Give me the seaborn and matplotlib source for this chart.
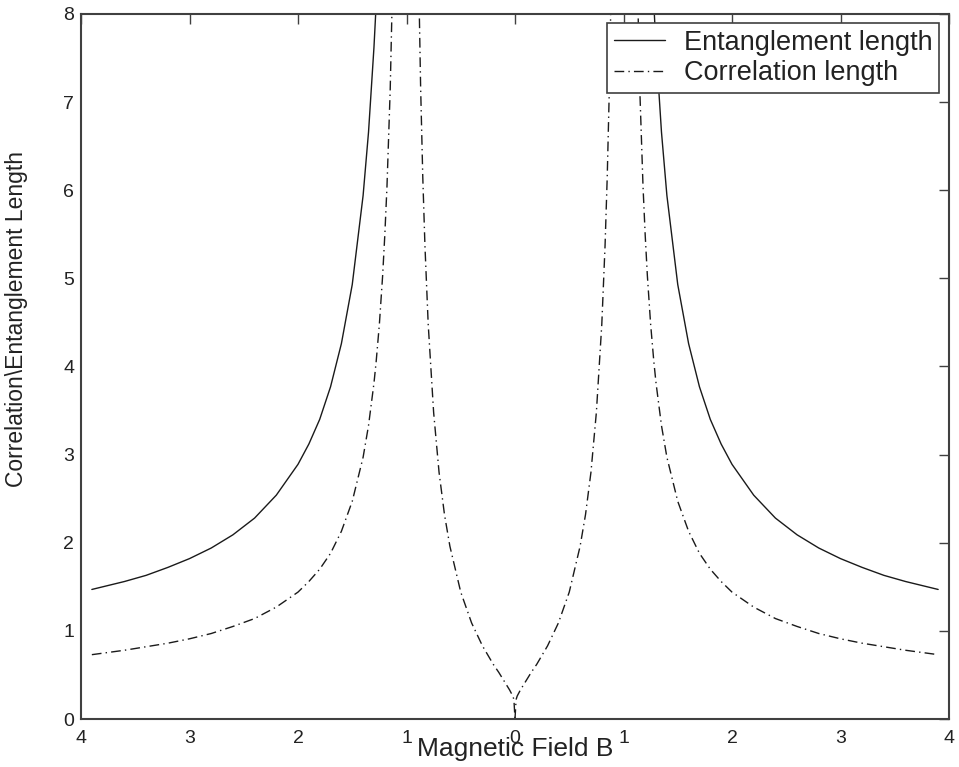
import numpy as np
import pandas as pd
import seaborn as sns
import matplotlib
matplotlib.use("Agg")
import matplotlib.pyplot as plt
from matplotlib.lines import Line2D

sns.set_theme(style="white")
plt.rcParams['font.family'] = ['Liberation Sans', 'DejaVu Sans']

# |B| > 1 branch (mirrored for B < 0)
b_outer = [1.10, 1.12, 1.15, 1.18, 1.20, 1.22, 1.25, 1.28, 1.30, 1.35, 1.40, 1.50,
           1.60, 1.70, 1.80, 1.90, 2.00, 2.20, 2.40, 2.60, 2.80, 3.00, 3.20, 3.40,
           3.60, 3.90]
corr_outer = [10.5, 8.82, 7.15, 6.04, 5.49, 5.03, 4.48, 4.05, 3.81, 3.33, 2.97, 2.47,
              2.13, 1.88, 1.70, 1.56, 1.44, 1.27, 1.14, 1.05, 0.97, 0.91, 0.86, 0.82,
              0.78, 0.73]
ent_outer = [21.0, 17.6, 14.3, 12.1, 10.97, 10.06, 8.96, 8.10, 7.62, 6.66, 5.94, 4.93,
             4.26, 3.77, 3.40, 3.12, 2.89, 2.54, 2.28, 2.09, 1.94, 1.82, 1.72, 1.63,
             1.56, 1.47]

# |B| < 1 branch, correlation length only
b_inner = [0.0, 0.01, 0.02, 0.05, 0.10, 0.15, 0.20, 0.30, 0.40, 0.50, 0.60, 0.65,
           0.70, 0.75, 0.80, 0.83, 0.85, 0.87, 0.89]
corr_inner = [0.0, 0.22, 0.26, 0.33, 0.43, 0.53, 0.62, 0.83, 1.09, 1.44, 1.96, 2.32,
              2.80, 3.48, 4.48, 5.37, 6.15, 7.18, 8.58]

x_ticks = [-4, -3, -2, -1, 0, 1, 2, 3, 4]
x_ticklabels = ["4", "3", "2", "1", "0", "1", "2", "3", "4"]
y_ticks = [0, 1, 2, 3, 4, 5, 6, 7, 8]

rows = []
for sign, tag in [(-1, "L"), (1, "R")]:
    for b, c, e in zip(b_outer, corr_outer, ent_outer):
        rows.append((sign * b, c, "Correlation length", "corr_out" + tag))
        rows.append((sign * b, e, "Entanglement length", "ent_out" + tag))
    for b, c in zip(b_inner, corr_inner):
        rows.append((sign * b, c, "Correlation length", "corr_in" + tag))
df = pd.DataFrame(rows, columns=["B", "L", "series", "branch"])

fig = plt.figure(figsize=(9.59, 7.67), dpi=100)
ax = fig.add_axes([81 / 959, 1 - 719 / 767, 868 / 959, 705 / 767])

dash_dot = (7, 3, 1, 3)
sns.lineplot(ax=ax, data=df, x="B", y="L", style="series", units="branch",
             estimator=None, sort=True, color="#1a1a1a", linewidth=1.0,
             dashes={"Entanglement length": "", "Correlation length": dash_dot},
             legend=False)

ax.set_xlim(-4, 4)
ax.set_ylim(0, 8)
ax.set_xticks(x_ticks)
ax.set_xticklabels(x_ticklabels)
ax.set_yticks(y_ticks)
ax.tick_params(direction="in", length=7, width=1, color="#404040",
               top=True, right=True, labelsize=14, colors="#222222")
ax.tick_params(axis="x", pad=8)
ax.tick_params(axis="y", pad=5)
for sp in ax.spines.values():
    sp.set_color("#404040")
    sp.set_linewidth(1.5)

ax.set_xlabel("Magnetic Field B", fontsize=19, color="#222222", labelpad=-7.5)
ax.set_ylabel("Correlation\\Entanglement Length", fontsize=16.5, color="#222222")
ax.yaxis.set_label_coords(-0.061, 0.567)
ax.grid(False)

handles = [Line2D([], [], color="#1a1a1a", lw=1.0),
           Line2D([], [], color="#1a1a1a", lw=1.0, dashes=dash_dot)]
leg = ax.legend(handles, ["Entanglement length", "Correlation length"],
                loc="upper right", bbox_to_anchor=(0.989, 0.987), fontsize=19.5,
                frameon=True, fancybox=False, framealpha=1, borderpad=0.25,
                labelspacing=0.15, handlelength=1.9, handletextpad=0.7,
                borderaxespad=0)
leg.get_frame().set_edgecolor("#404040")
leg.get_frame().set_linewidth(1.2)
for t in leg.get_texts():
    t.set_color("#222222")

fig.savefig("out.png", dpi=100)
